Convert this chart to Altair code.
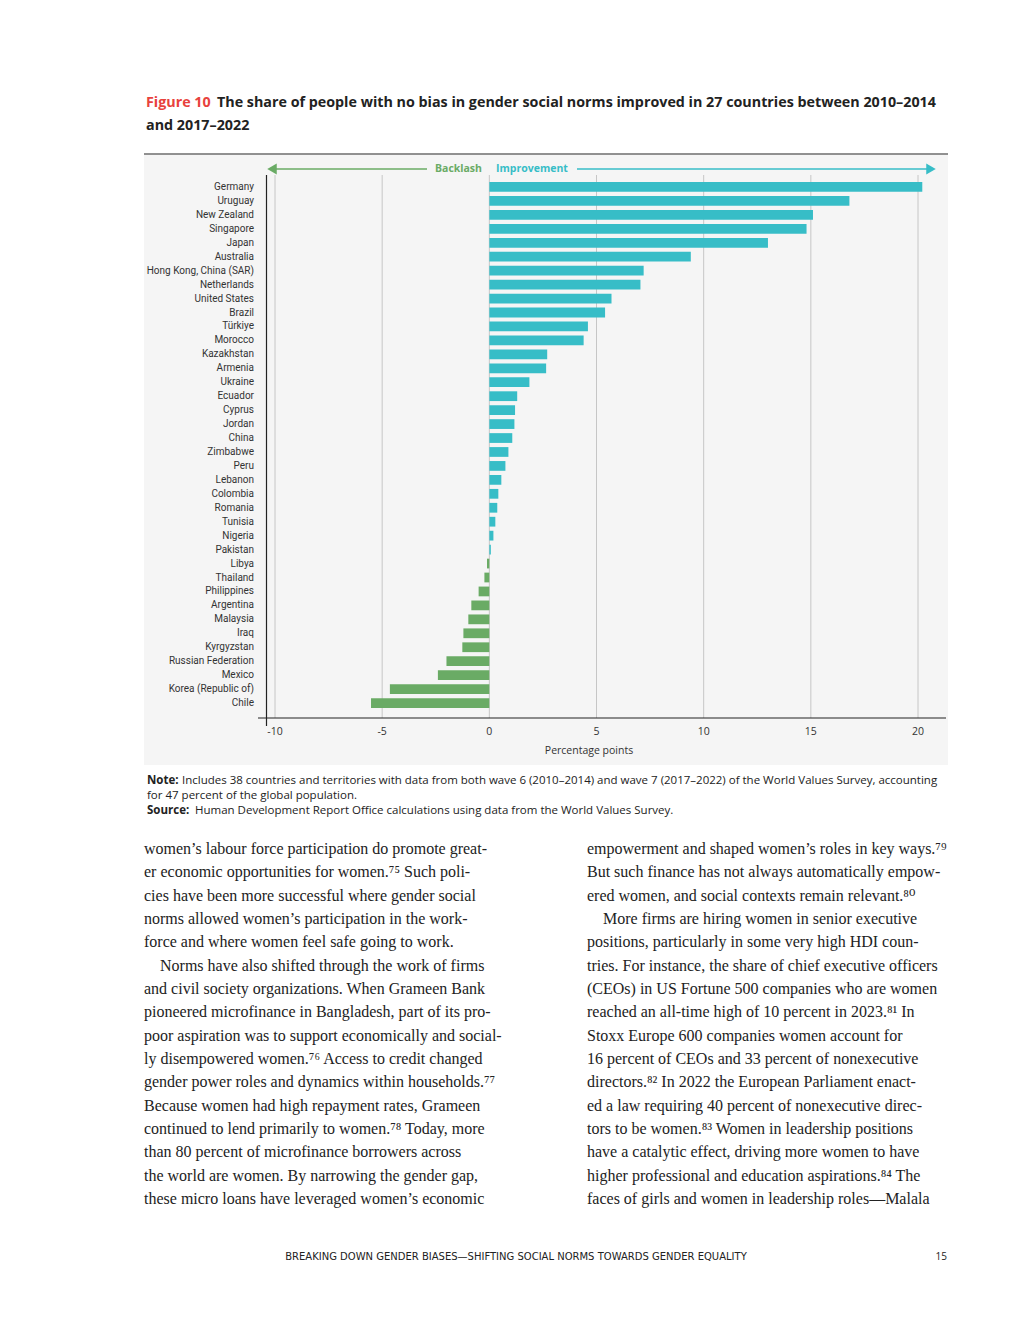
import altair as alt
import pandas as pd

countries = ["Germany", "Uruguay", "New Zealand", "Singapore", "Japan", "Australia",
             "Hong Kong, China (SAR)", "Netherlands", "United States", "Brazil", "Türkiye",
             "Morocco", "Kazakhstan", "Armenia", "Ukraine", "Ecuador", "Cyprus", "Jordan",
             "China", "Zimbabwe", "Peru", "Lebanon", "Colombia", "Romania", "Tunisia",
             "Nigeria", "Pakistan", "Libya", "Thailand", "Philippines", "Argentina",
             "Malaysia", "Iraq", "Kyrgyzstan", "Russian Federation", "Mexico",
             "Korea (Republic of)", "Chile"]
values = [20.2, 16.8, 15.1, 14.8, 13.0, 9.4, 7.2, 7.05, 5.7, 5.4, 4.6, 4.4, 2.7, 2.65,
          1.87, 1.3, 1.2, 1.17, 1.07, 0.89, 0.75, 0.56, 0.42, 0.37, 0.28, 0.19, 0.07,
          -0.11, -0.23, -0.5, -0.84, -0.98, -1.21, -1.26, -2.0, -2.4, -4.64, -5.52]
ticks = [-10, -5, 0, 5, 10, 15, 20]
tick_labels = ["-10", "-5", "0", "5", "10", "15", "20"]

title_lead = "Figure 10"
title_line1 = "The share of people with no bias in gender social norms improved in 27 countries between 2010–2014"
title_line2 = "and 2017–2022"
x_title = "Percentage points"
note_lead = "Note:"
note_line1 = "Includes 38 countries and territories with data from both wave 6 (2010–2014) and wave 7 (2017–2022) of the World Values Survey, accounting"
note_line2 = "for 47 percent of the global population."
source_lead = "Source:"
source_text = "Human Development Report Office calculations using data from the World Values Survey."

# paragraphs: (lines, first line indented?)
left_paras = [
    ([
        "women’s labour force participation do promote great-",
        "er economic opportunities for women.⁷⁵ Such poli-",
        "cies have been more successful where gender social",
        "norms allowed women’s participation in the work-",
        "force and where women feel safe going to work.",
    ], False),
    ([
        "Norms have also shifted through the work of firms",
        "and civil society organizations. When Grameen Bank",
        "pioneered microfinance in Bangladesh, part of its pro-",
        "poor aspiration was to support economically and social-",
        "ly disempowered women.⁷⁶ Access to credit changed",
        "gender power roles and dynamics within households.⁷⁷",
        "Because women had high repayment rates, Grameen",
        "continued to lend primarily to women.⁷⁸ Today, more",
        "than 80 percent of microfinance borrowers across",
        "the world are women. By narrowing the gender gap,",
        "these micro loans have leveraged women’s economic",
    ], True),
]
right_paras = [
    ([
        "empowerment and shaped women’s roles in key ways.⁷⁹",
        "But such finance has not always automatically empow-",
        "ered women, and social contexts remain relevant.⁸⁰",
    ], False),
    ([
        "More firms are hiring women in senior executive",
        "positions, particularly in some very high HDI coun-",
        "tries. For instance, the share of chief executive officers",
        "(CEOs) in US Fortune 500 companies who are women",
        "reached an all-time high of 10 percent in 2023.⁸¹ In",
        "Stoxx Europe 600 companies women account for",
        "16 percent of CEOs and 33 percent of nonexecutive",
        "directors.⁸² In 2022 the European Parliament enact-",
        "ed a law requiring 40 percent of nonexecutive direc-",
        "tors to be women.⁸³ Women in leadership positions",
        "have a catalytic effect, driving more women to have",
        "higher professional and education aspirations.⁸⁴ The",
        "faces of girls and women in leadership roles—Malala",
    ], True),
]
footer_text = "BREAKING DOWN GENDER BIASES—SHIFTING SOCIAL NORMS TOWARDS GENDER EQUALITY"
page_number = "15"

TEAL = "#37bdc7"
GREEN = "#6aab65"
RED = "#e8423d"
SANS = "Open Sans, Roboto, Liberation Sans, sans-serif"
NARROW = "Roboto, Liberation Sans, sans-serif"
SERIF = "Liberation Serif, DejaVu Serif, serif"

df = pd.DataFrame({"country": countries, "value": values})
tick_df = pd.DataFrame({"tick": ticks, "label": tick_labels})
one = alt.Data(values=[{}])

xs = alt.Scale(domain=[-10, 20], range=[267, 910], nice=False, zero=False)
ys = alt.Scale(domain=countries, range=[172, 702], paddingInner=0.3, paddingOuter=0.15)


def text(s, x, y, **kw):
    return alt.Chart(one).mark_text(text=s, **kw).encode(x=alt.value(x), y=alt.value(y))


def rule(x, x2, y, y2, color, width=1):
    return alt.Chart(one).mark_rule(color=color, strokeWidth=width).encode(
        x=alt.value(x), x2=alt.value(x2), y=alt.value(y), y2=alt.value(y2))


def column(paras, x0, y0, lh, indent):
    out = []
    row = 0
    kw = dict(align="left", baseline="alphabetic", font=SERIF, fontSize=16,
              lineHeight=lh, color="#222222")
    for lines, ind in paras:
        if ind:
            out.append(text(lines[0], x0 + indent, y0 + row * lh, **kw))
            row += 1
            lines = lines[1:]
        if lines:
            out.append(text(lines, x0, y0 + row * lh, **kw))
            row += len(lines)
    return out


bg = alt.Chart(one).mark_rect(color="#f5f5f5").encode(
    x=alt.value(136), x2=alt.value(940), y=alt.value(147), y2=alt.value(757))
topline = rule(136, 940, 146, 146, "#222222", 1)

grid = alt.Chart(tick_df).mark_rule(color="#c6c6c6", strokeWidth=1).encode(
    x=alt.X("tick:Q", scale=xs, axis=None), y=alt.value(167), y2=alt.value(710))

bars = alt.Chart(df).mark_bar().encode(
    y=alt.Y("country:N", scale=ys, axis=None),
    x=alt.X("value:Q", scale=xs, axis=None),
    x2=alt.datum(0),
    color=alt.condition("datum.value >= 0", alt.value(TEAL), alt.value(GREEN)),
)

yline = rule(258.5, 258.5, 167, 718, "#222222", 1.2)
xline = rule(250, 938, 710, 710, "#222222", 1.2)

clabels = alt.Chart(df).mark_text(align="right", baseline="middle", font=NARROW,
                                  fontSize=10, color="#333333").encode(
    y=alt.Y("country:N", scale=ys, axis=None), x=alt.value(246), text="country:N")

tlabels = alt.Chart(tick_df).mark_text(align="center", baseline="middle", font=SANS,
                                       fontSize=10.5, color="#333333").encode(
    x=alt.X("tick:Q", scale=xs, axis=None), y=alt.value(724), text="label:N")

xtitle = text(x_title, 581, 743, align="center", baseline="middle", font=SANS,
              fontSize=10.5, color="#333333")

# header arrows
gline = rule(266, 419, 161, 161, GREEN, 1.3)
ghead = alt.Chart(one).mark_point(shape="triangle-left", filled=True, size=120,
                                  color=GREEN, opacity=1).encode(x=alt.value(264), y=alt.value(161))
tline = rule(569, 921, 161, 161, TEAL, 1.3)
thead = alt.Chart(one).mark_point(shape="triangle-right", filled=True, size=120,
                                  color=TEAL, opacity=1).encode(x=alt.value(923), y=alt.value(161))
back_t = text("Backlash", 474, 161, align="right", baseline="middle", font=SANS,
              fontSize=10.5, fontWeight="bold", color=GREEN)
imp_t = text("Improvement", 488, 161, align="left", baseline="middle", font=SANS,
             fontSize=10.5, fontWeight="bold", color=TEAL)

# title
t_lead = text(title_lead, 138, 99, align="left", baseline="alphabetic", font=SANS,
              fontSize=14.3, fontWeight="bold", color=RED)
t_1 = text(title_line1, 209, 99, align="left", baseline="alphabetic", font=SANS,
           fontSize=14.3, fontWeight="bold", color="#222222")
t_2 = text(title_line2, 138, 122, align="left", baseline="alphabetic", font=SANS,
           fontSize=14.3, fontWeight="bold", color="#222222")

# note / source
NFS = 11.5
n_lead = text(note_lead, 139, 776, align="left", baseline="alphabetic", font=SANS,
              fontSize=NFS, fontWeight="bold", color="#222222")
n_1 = text(note_line1, 174, 776, align="left", baseline="alphabetic", font=SANS,
           fontSize=NFS, color="#222222")
n_2 = text(note_line2, 139, 791, align="left", baseline="alphabetic", font=SANS,
           fontSize=NFS, color="#222222")
s_lead = text(source_lead, 139, 806, align="left", baseline="alphabetic", font=SANS,
              fontSize=NFS, fontWeight="bold", color="#222222")
s_1 = text(source_text, 187, 806, align="left", baseline="alphabetic", font=SANS,
           fontSize=NFS, color="#222222")

body = column(left_paras, 136, 846, 23.33, 16) + column(right_paras, 579, 846, 23.33, 16)

footer = text(footer_text, 508, 1252, align="center", baseline="alphabetic",
              font="DejaVu Sans, Open Sans, sans-serif", fontSize=10, color="#222222")
pnum = text(page_number, 939, 1252, align="right", baseline="alphabetic", font=SANS,
            fontSize=10, color="#222222")

chart = alt.layer(
    bg, topline, grid, bars, yline, xline, clabels, tlabels, xtitle,
    gline, ghead, tline, thead, back_t, imp_t,
    t_lead, t_1, t_2, n_lead, n_1, n_2, s_lead, s_1, *body, footer, pnum,
).properties(
    width=1004, height=1304, padding=0,
    autosize=alt.AutoSizeParams(type="none"),
    background="white",
).configure_view(strokeWidth=0)

chart.save("out.html", embed_options={"renderer": "svg", "actions": False})
